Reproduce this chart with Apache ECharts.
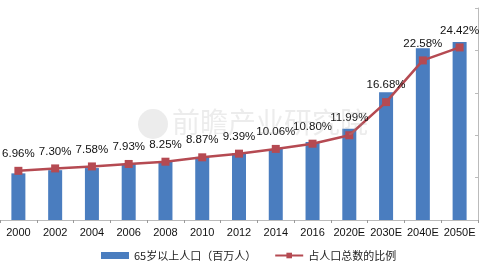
<!DOCTYPE html>
<html><head><meta charset="utf-8">
<script src="https://cdn.jsdelivr.net/npm/echarts@6/dist/echarts.min.js"></script>
<style>html,body{margin:0;padding:0;background:#fff}#c{width:480px;height:262px}</style>
</head><body><div id="c"></div>
<script>
const categories = ['2000','2002','2004','2006','2008','2010','2012','2014','2016','2020E','2030E','2040E','2050E'];
const population = [88, 94, 98, 106, 111, 119, 126, 134, 147, 172, 241, 324, 336];
const ratio = [6.96, 7.30, 7.58, 7.93, 8.25, 8.87, 9.39, 10.06, 10.80, 11.99, 16.68, 22.58, 24.42];
const seriesNames = ['65岁以上人口（百万人）', '占人口总数的比例'];
const watermark = '前瞻产业研究院';

const chart = echarts.init(document.getElementById('c'));
chart.setOption({
  animation: false,
  textStyle: {fontFamily: 'Liberation Sans, Arial, sans-serif'},
  grid: {left: 0, right: 2, top: 8, bottom: 42},
  legend: {
    left: 96, top: 245, itemGap: 18,
    textStyle: {fontSize: 11, color: '#222', fontFamily: 'Noto Sans CJK SC, sans-serif'},
    data: [
      {name: seriesNames[0], icon: 'rect'},
      {name: seriesNames[1]}
    ],
    itemWidth: 28, itemHeight: 7
  },
  xAxis: {
    type: 'category', data: categories,
    axisLine: {lineStyle: {color: '#bbb'}},
    axisTick: {show: true, lineStyle: {color: '#999'}, length: 3},
    axisLabel: {color: '#111', fontSize: 11, margin: 7, interval: 0}
  },
  yAxis: [
    {type: 'value', min: 0, max: 400, show: false, splitLine: {show: false}},
    {type: 'value', min: 0, max: 30, interval: 6, position: 'right',
     axisLine: {show: true, lineStyle: {color: '#bbb'}},
     axisTick: {show: true, inside: true, length: 3, lineStyle: {color: '#bbb'}},
     axisLabel: {show: false}, splitLine: {show: false}}
  ],
  series: [
    {name: seriesNames[0], type: 'bar', data: population, barWidth: 14,
     itemStyle: {color: '#4a7dbf'}, yAxisIndex: 0},
    {name: seriesNames[1], type: 'line', data: ratio, yAxisIndex: 1,
     symbol: 'rect', symbolSize: 8,
     lineStyle: {color: '#b54a52', width: 2.5},
     itemStyle: {color: '#b54a52'},
     label: {show: true, position: 'top', distance: 7, fontSize: 11.5, color: '#111',
       formatter: p => p.value.toFixed(2) + '%'}}
  ],
  graphic: [
    {type: 'circle', shape: {cx: 153, cy: 124, r: 15}, style: {fill: 'rgba(170,170,170,0.22)'}, z: 100},
    {type: 'text', left: 172, top: 108, z: 100,
     style: {text: watermark, fontSize: 28, fill: 'rgba(170,170,170,0.22)', fontFamily: 'Noto Sans CJK SC, sans-serif'}}
  ]
});
</script></body></html>
